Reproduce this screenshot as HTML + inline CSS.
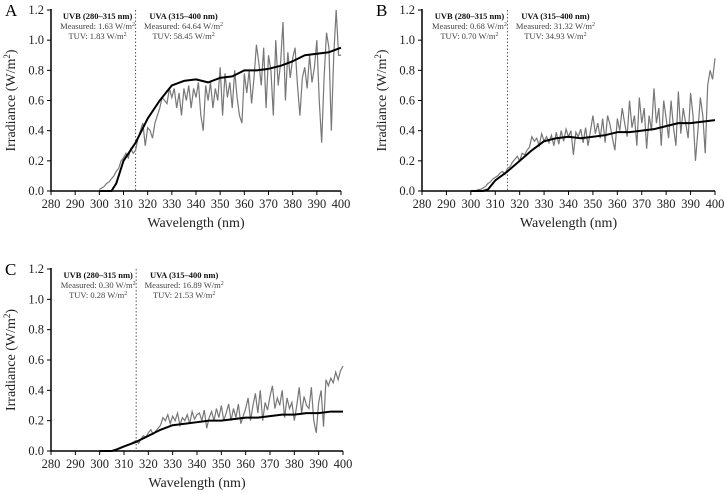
<!DOCTYPE html>
<html><head><meta charset="utf-8">
<style>
html,body{margin:0;padding:0;background:#fff;}
svg{display:block;font-family:"Liberation Serif",serif;}
</style></head>
<body>
<svg id="chart" width="725" height="494" viewBox="0 0 725 494"></svg>
<script>
// ---- data (wavelength nm, irradiance W/m2) ----
const xTicks = [280,290,300,310,320,330,340,350,360,370,380,390,400];
const yTicks = [0.0,0.2,0.4,0.6,0.8,1.0,1.2];
const grayStartA = 300;
const grayA = [0.01,0.02,0.03,0.05,0.06,0.08,0.1,0.13,0.15,0.2,0.22,0.25,0.22,0.28,0.25,0.27,0.35,0.4,0.45,0.3,0.42,0.4,0.35,0.45,0.5,0.55,0.62,0.6,0.58,0.68,0.62,0.68,0.55,0.65,0.5,0.68,0.6,0.7,0.55,0.68,0.62,0.72,0.5,0.4,0.7,0.6,0.72,0.55,0.68,0.6,0.82,0.5,0.78,0.62,0.72,0.55,0.8,0.62,0.5,0.45,0.78,0.65,0.8,0.58,0.75,0.97,0.85,0.7,0.95,0.55,0.9,0.8,0.5,1.0,0.7,0.85,1.12,0.6,0.92,0.75,0.88,0.95,0.7,0.5,0.75,0.82,0.68,0.9,0.72,0.82,1.0,0.6,0.32,0.75,1.05,0.95,0.4,0.9,1.2,0.9,0.9];
const blackWl = [300,305,307,310,315,320,325,330,335,340,345,350,355,360,365,370,375,380,385,390,395,400];
const blackA = [0,0,0.05,0.2,0.32,0.48,0.6,0.7,0.73,0.74,0.72,0.75,0.76,0.8,0.8,0.81,0.83,0.86,0.9,0.91,0.92,0.95];
const grayStartB = 302;
const grayB = [0.0,0.01,0.01,0.02,0.03,0.05,0.06,0.08,0.09,0.1,0.12,0.13,0.11,0.15,0.16,0.19,0.21,0.23,0.2,0.25,0.24,0.27,0.29,0.36,0.33,0.35,0.3,0.38,0.33,0.36,0.32,0.37,0.3,0.39,0.31,0.4,0.33,0.41,0.36,0.4,0.24,0.39,0.36,0.41,0.32,0.42,0.3,0.4,0.5,0.38,0.45,0.35,0.48,0.32,0.5,0.44,0.35,0.27,0.48,0.4,0.55,0.45,0.36,0.6,0.42,0.5,0.3,0.62,0.45,0.55,0.28,0.5,0.4,0.68,0.45,0.55,0.3,0.6,0.48,0.35,0.6,0.42,0.3,0.66,0.38,0.55,0.45,0.35,0.65,0.5,0.2,0.4,0.62,0.5,0.25,0.7,0.8,0.74,0.88];
const blackB = [0,0,0.01,0.07,0.13,0.2,0.27,0.33,0.35,0.36,0.35,0.36,0.37,0.39,0.39,0.4,0.41,0.43,0.45,0.45,0.46,0.47];
const grayStartC = 313;
const grayC = [0.05,0.06,0.07,0.05,0.08,0.1,0.09,0.12,0.14,0.11,0.13,0.15,0.17,0.22,0.2,0.24,0.18,0.23,0.2,0.25,0.17,0.22,0.2,0.24,0.18,0.26,0.21,0.24,0.25,0.2,0.27,0.15,0.22,0.26,0.2,0.28,0.22,0.3,0.2,0.25,0.31,0.2,0.28,0.22,0.31,0.18,0.23,0.28,0.35,0.2,0.3,0.38,0.25,0.4,0.2,0.32,0.27,0.36,0.43,0.28,0.35,0.3,0.4,0.22,0.35,0.28,0.32,0.2,0.3,0.42,0.25,0.36,0.3,0.28,0.42,0.2,0.12,0.32,0.4,0.16,0.47,0.43,0.48,0.45,0.52,0.47,0.53,0.56];
const blackC = [0,0,0.01,0.03,0.06,0.1,0.14,0.17,0.18,0.19,0.2,0.2,0.21,0.22,0.22,0.23,0.24,0.24,0.25,0.25,0.26,0.26];

const NS='http://www.w3.org/2000/svg';
const svg=document.getElementById('chart');
function mk(tag,attrs,parent){const e=document.createElementNS(NS,tag);for(const k in attrs)e.setAttribute(k,attrs[k]);(parent||svg).appendChild(e);return e;}

function panel(id,letter,x0,x1,y0,y1,gStart,gray,black,uvb,uva){
  const g=mk('g',{});
  
  
  const sx=w=>x0+(w-280)/120*(x1-x0);
  const sy=v=>y0-v/1.2*(y0-y1);
  const lt=mk('text',{x:x0-46,y:y1+6,'font-size':17},g);lt.textContent=letter;
  
  
  const ax=mk('path',{d:`M${x0},${y1-1}V${y0}H${x1}`,stroke:'#000','stroke-width':1.5,fill:'none'},g);
  
  
  yTicks.forEach(v=>{
    mk('line',{x1:x0-4,x2:x0,y1:sy(v),y2:sy(v),stroke:'#000','stroke-width':1},g);
    const t=mk('text',{x:x0-7,y:sy(v)+4,'font-size':12.5,'text-anchor':'end',fill:'#222'},g);
    t.textContent=v.toFixed(1);
    
    
  });
  xTicks.forEach(w=>{
    mk('line',{x1:sx(w),x2:sx(w),y1:y0,y2:y0+4,stroke:'#000','stroke-width':1},g);
    const t=mk('text',{x:sx(w),y:y0+17,'font-size':12.5,'text-anchor':'middle',fill:'#222'},g);
    t.textContent=w;
    
    
  });
  const yt=mk('text',{transform:`translate(${x0-36},${(y0+y1)/2}) rotate(-90)`,'font-size':14,'text-anchor':'middle',fill:'#222'},g);
  yt.innerHTML='Irradiance (W/m<tspan dy="-5" font-size="9">2</tspan><tspan dy="5">)</tspan>';
  
  
  const xt=mk('text',{x:(x0+x1)/2,y:y0+36,'font-size':14,'text-anchor':'middle',fill:'#222'},g);
  xt.textContent='Wavelength (nm)';
  
  
  const dv=mk('line',{x1:sx(315),x2:sx(315),y1:y1,y2:y0,stroke:'#555','stroke-width':1,'stroke-dasharray':'1.5,2'},g);
  
  
  [[uvb,sx(315)-38,'UVB (280–315 nm)'],[uva,sx(315)+48,'UVA (315–400 nm)']].forEach(([vals,cx,head],i)=>{
    const a=mk('g',{'font-size':8.5,'text-anchor':'middle',fill:'#444'},g);
    
    
    const h=mk('text',{x:cx,y:y1+9,'font-weight':'bold',fill:'#111'},a);h.textContent=head;
    const m=mk('text',{x:cx,y:y1+19},a);m.innerHTML='Measured: '+vals[0]+' W/m<tspan dy="-3" font-size="6">2</tspan>';
    const u=mk('text',{x:cx,y:y1+29},a);u.innerHTML='TUV: '+vals[1]+' W/m<tspan dy="-3" font-size="6">2</tspan>';
  });
  const gp=mk('polyline',{points:gray.map((v,i)=>sx(gStart+i)+','+sy(v)).join(' '),fill:'none',stroke:'#777','stroke-width':1.2},g);
  
  
  const bp=mk('polyline',{points:black.map((v,i)=>sx(blackWl[i])+','+sy(v)).join(' '),fill:'none',stroke:'#000','stroke-width':2,'stroke-linejoin':'round'},g);
  
  
}
panel('a','A',51,341,191,10,grayStartA,grayA,blackA,['1.63','1.83'],['64.64','58.45']);
panel('b','B',422,715,191,10,grayStartB,grayB,blackB,['0.68','0.70'],['31.32','34.93']);
panel('c','C',51,343,451,269,grayStartC,grayC,blackC,['0.30','0.28'],['16.89','21.53']);
</script>
</body></html>
